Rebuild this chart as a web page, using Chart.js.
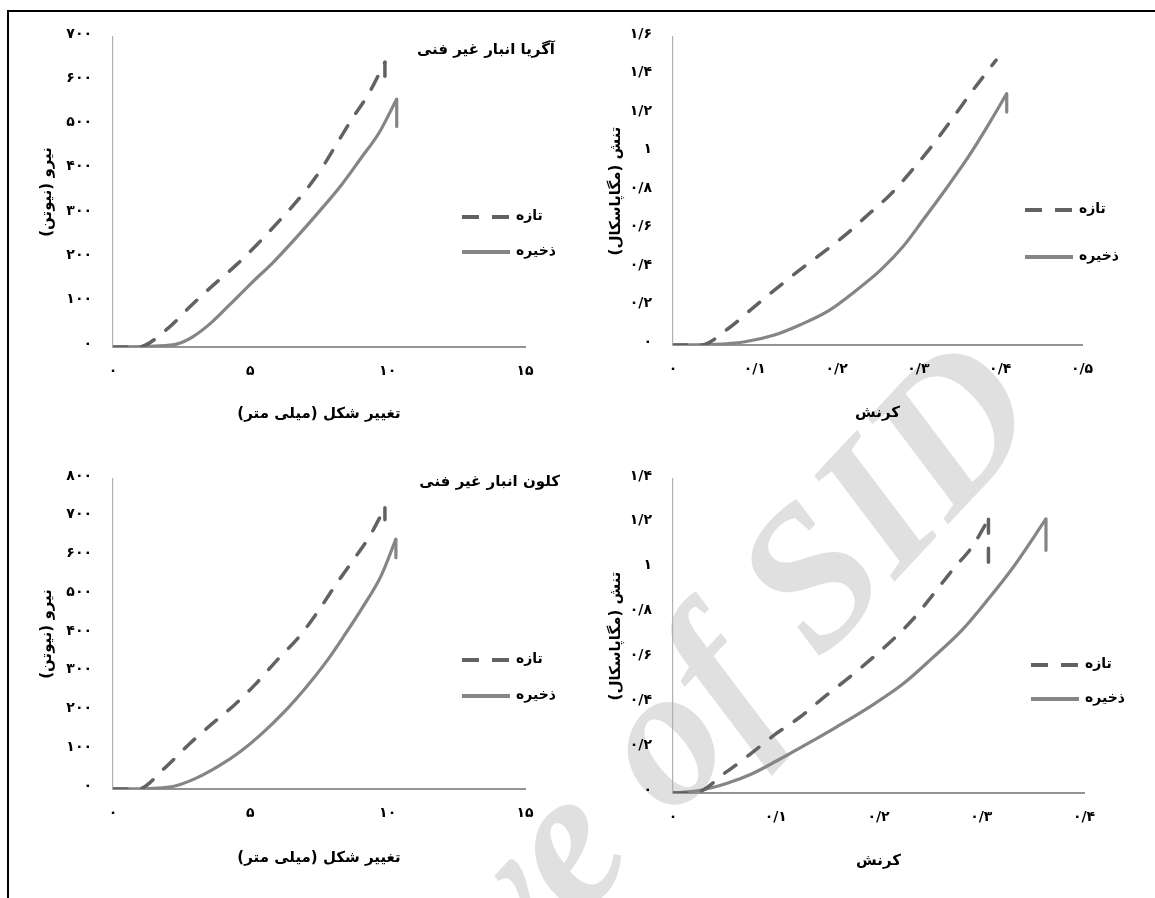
<!DOCTYPE html>
<html>
<head>
<meta charset="utf-8">
<script src="https://cdn.jsdelivr.net/npm/chart.js@4/dist/chart.umd.min.js"></script>
<style>
  body { margin: 0; background: #fff; width: 1155px; height: 898px; overflow: hidden; position: relative; }
  .frame { position: absolute; left: 7px; top: 10px; width: 1150px; height: 900px; border-top: 2px solid #000; border-left: 2px solid #000; }
  .wm { position: absolute; left: 0; top: 0; width: 1400px; text-align: right; white-space: nowrap;
        font: italic bold 200px "Liberation Serif", serif; line-height: 200px; color: #e0e0e0;
        transform-origin: 100% 75%; transform: translate(-365px, 256px) rotate(-47deg); }
  .box { position: absolute; }
  canvas { direction: rtl; }
</style>
</head>
<body>
<div class="frame"></div>
<div class="wm">Archive of SID</div>
<div class="box" style="left:0;top:0;width:578px;height:440px"><canvas id="agria"></canvas></div>
<div class="box" style="left:578px;top:0;width:577px;height:440px"><canvas id="agriaStress"></canvas></div>
<div class="box" style="left:0;top:440px;width:578px;height:458px"><canvas id="clone"></canvas></div>
<div class="box" style="left:578px;top:440px;width:577px;height:458px"><canvas id="cloneStress"></canvas></div>
<script>
// series names
const seriesNames = ['تازه', 'ذخیره'];

// Agria, force (N) vs deformation (mm); last point = drop after rupture
const agriaFreshX  = [0, 0.9, 2.0, 2.8, 3.6, 4.5, 5.3, 6.1, 6.8, 7.5, 8.1, 8.7, 9.3, 9.9, 9.9];
const agriaFreshY  = [0, 0, 42, 91, 137, 186, 235, 288, 337, 394, 454, 515, 571, 643, 608];
const agriaStoredX = [0, 1.5, 2.35, 2.9, 3.56, 4.24, 5.05, 5.86, 6.67, 7.48, 8.28, 9.0, 9.7, 10.33, 10.33];
const agriaStoredY = [0, 2, 7, 23, 54, 95, 145, 193, 247, 304, 363, 424, 485, 560, 498];

// Agria, stress (MPa) vs strain
const agriaFreshStrain  = [0, 0.034, 0.068, 0.097, 0.124, 0.155, 0.182, 0.213, 0.24, 0.267, 0.294, 0.319, 0.343, 0.366, 0.395];
const agriaFreshStress  = [0, 0, 0.087, 0.19, 0.285, 0.39, 0.476, 0.58, 0.683, 0.787, 0.917, 1.047, 1.185, 1.32, 1.48];
const agriaStoredStrain = [0, 0.05, 0.088, 0.124, 0.155, 0.191, 0.222, 0.254, 0.281, 0.307, 0.334, 0.361, 0.384, 0.408, 0.408];
const agriaStoredStress = [0, 0.003, 0.017, 0.052, 0.104, 0.18, 0.277, 0.39, 0.51, 0.657, 0.813, 0.977, 1.133, 1.306, 1.21];

// Clone, force (N) vs deformation (mm)
const cloneFreshX  = [0, 0.9, 1.88, 2.76, 3.57, 4.44, 5.18, 5.99, 6.8, 7.47, 8.08, 8.68, 9.35, 9.9, 9.9];
const cloneFreshY  = [0, 0, 54, 115, 166, 218, 270, 334, 395, 459, 524, 584, 653, 726, 695];
const cloneStoredX = [0, 1.5, 2.22, 3.03, 3.84, 4.64, 5.45, 6.26, 7.07, 7.74, 8.41, 9.08, 9.76, 10.3, 10.3];
const cloneStoredY = [0, 2, 7, 28, 59, 97, 145, 201, 266, 326, 395, 468, 550, 645, 597];

// Clone, stress (MPa) vs strain
const cloneFreshStrain  = [0, 0.02, 0.052, 0.077, 0.099, 0.124, 0.145, 0.17, 0.191, 0.213, 0.234, 0.254, 0.273, 0.291, 0.307, 0.307];
const cloneFreshStress  = [0, 0, 0.094, 0.18, 0.26, 0.34, 0.42, 0.51, 0.59, 0.68, 0.777, 0.89, 1.0, 1.097, 1.22, 1.007];
const cloneStoredStrain = [0, 0.027, 0.052, 0.077, 0.102, 0.131, 0.159, 0.191, 0.224, 0.252, 0.281, 0.306, 0.33, 0.363, 0.363];
const cloneStoredStress = [0, 0.012, 0.042, 0.086, 0.146, 0.22, 0.294, 0.383, 0.487, 0.6, 0.725, 0.86, 1.0, 1.222, 1.082];

// tick values
const deformTicks   = [0, 5, 10, 15];
const force700Ticks = [0, 100, 200, 300, 400, 500, 600, 700];
const force800Ticks = [0, 100, 200, 300, 400, 500, 600, 700, 800];
const strain5Ticks  = [0, 0.1, 0.2, 0.3, 0.4, 0.5];
const strain4Ticks  = [0, 0.1, 0.2, 0.3, 0.4];
const stress16Ticks = [0, 0.2, 0.4, 0.6, 0.8, 1, 1.2, 1.4, 1.6];
const stress14Ticks = [0, 0.2, 0.4, 0.6, 0.8, 1, 1.2, 1.4];

// titles
const forceTitle  = 'نیرو (نیوتن)';
const deformTitle = 'تغییر شکل (میلی متر)';
const stressTitle = 'تنش (مگاپاسکال)';
const strainTitle = 'کرنش';
const agriaTitle  = 'آگریا انبار غیر فنی';
const cloneTitle  = 'کلون انبار غیر فنی';

const FONT = '"DejaVu Sans", sans-serif';
const faDigits = '۰۱۲۳۴۵۶۷۸۹';
function toFa(v) {
  return String(+v.toFixed(3)).replace(/\d/g, d => faDigits[d]).replace('.', '/');
}
function zip(xs, ys) { return xs.map((x, i) => ({ x: x, y: ys[i] })); }

// split off the vertical drop at the end so the curve itself can be smooth
function split(xs, ys) {
  const pts = zip(xs, ys);
  const n = pts.length;
  if (n > 2 && xs[n - 1] === xs[n - 2]) return [pts.slice(0, n - 1), pts.slice(n - 2)];
  return [pts, []];
}

// title + legend drawn inside the plot box
const overlay = {
  id: 'overlay',
  afterDraw(chart, args, o) {
    const ctx = chart.ctx;
    ctx.save();
    ctx.direction = 'rtl';
    ctx.textBaseline = 'middle';
    if (o.title) {
      ctx.font = 'bold 15px ' + FONT;
      ctx.fillStyle = '#000';
      ctx.textAlign = 'right';
      ctx.fillText(o.title, o.titleX, o.titleY);
    }
    chart.data.datasets.slice(0, 2).forEach((ds, i) => {
      const y = o.legendY[i];
      ctx.strokeStyle = ds.borderColor;
      ctx.lineWidth = 4;
      ctx.lineCap = 'butt';
      ctx.setLineDash(ds.borderDash ? [17, 13] : []);
      ctx.beginPath();
      ctx.moveTo(o.legendX, y);
      ctx.lineTo(o.legendX + 48, y);
      ctx.stroke();
      ctx.setLineDash([]);
      ctx.fillStyle = '#000';
      ctx.font = 'bold 14px ' + FONT;
      ctx.textAlign = 'left';
      ctx.fillText(ds.label, o.legendX + 54, y - 1);
    });
    ctx.restore();
  }
};

const freshStyle  = { borderColor: '#626262', borderWidth: 3.5, borderDash: [14, 15], borderCapStyle: 'round',
                      pointRadius: 0, fill: false };
const storedStyle = { borderColor: '#858585', borderWidth: 3.2, borderJoinStyle: 'round', pointRadius: 0, fill: false };

function panel(id, fresh, stored, xTicks, yTicks, xTitle, yTitle, lay) {
  const f = split(fresh[0], fresh[1]);
  const s = split(stored[0], stored[1]);
  const tickFont = { family: FONT, size: 14, weight: 'bold' };
  const titleFont = { family: FONT, size: 15, weight: 'bold' };
  return new Chart(document.getElementById(id), {
    type: 'line',
    data: {
      datasets: [
        Object.assign({ label: seriesNames[0], data: f[0], cubicInterpolationMode: 'monotone' }, freshStyle),
        Object.assign({ label: seriesNames[1], data: s[0], cubicInterpolationMode: 'monotone' }, storedStyle),
        Object.assign({ label: 'drop-fresh', data: f[1], tension: 0 }, freshStyle),
        Object.assign({ label: 'drop-stored', data: s[1], tension: 0 }, storedStyle)
      ]
    },
    options: {
      responsive: true,
      maintainAspectRatio: false,
      animation: false,
      layout: { padding: lay.pad },
      plugins: {
        legend: { display: false },
        tooltip: { enabled: false },
        overlay: lay.overlay
      },
      scales: {
        x: {
          type: 'linear',
          min: xTicks[0],
          max: xTicks[xTicks.length - 1],
          grid: { display: false, drawTicks: false },
          border: { color: '#939393', width: 2 },
          afterBuildTicks: sc => { sc.ticks = xTicks.map(v => ({ value: v })); },
          afterFit: sc => { sc.height = lay.xh; },
          ticks: { padding: 16, color: '#000', font: tickFont, callback: v => toFa(v) },
          title: { display: true, text: xTitle, color: '#000', font: titleFont, padding: { top: 0, bottom: lay.xtp } }
        },
        y: {
          type: 'linear',
          min: yTicks[0],
          max: yTicks[yTicks.length - 1],
          grid: { display: false, drawTicks: false },
          border: { color: '#b0b0b0', width: 1.2 },
          afterBuildTicks: sc => { sc.ticks = yTicks.map(v => ({ value: v })); },
          afterFit: sc => { sc.width = lay.yw; },
          ticks: { padding: 21, labelOffset: -3, color: '#000', font: tickFont, callback: v => toFa(v) },
          title: { display: true, text: yTitle, color: '#000', font: titleFont, padding: { top: lay.ytp, bottom: 0 } }
        }
      }
    },
    plugins: [overlay]
  });
}

panel('agria', [agriaFreshX, agriaFreshY], [agriaStoredX, agriaStoredY],
  deformTicks, force700Ticks, deformTitle, forceTitle,
  { pad: { left: 0, top: 37, right: 53, bottom: 0 }, xh: 93, yw: 113, xtp: 17, ytp: 38,
    overlay: { title: agriaTitle, titleX: 555, titleY: 50, legendX: 462, legendY: [217, 252] } });

panel('agriaStress', [agriaFreshStrain, agriaFreshStress], [agriaStoredStrain, agriaStoredStress],
  strain5Ticks, stress16Ticks, strainTitle, stressTitle,
  { pad: { left: 0, top: 37, right: 73, bottom: 0 }, xh: 95, yw: 95, xtp: 18, ytp: 29,
    overlay: { legendX: 447, legendY: [210, 257] } });

panel('clone', [cloneFreshX, cloneFreshY], [cloneStoredX, cloneStoredY],
  deformTicks, force800Ticks, deformTitle, forceTitle,
  { pad: { left: 0, top: 39, right: 53, bottom: 0 }, xh: 109, yw: 113, xtp: 31, ytp: 38,
    overlay: { title: cloneTitle, titleX: 560, titleY: 42, legendX: 462, legendY: [220, 256] } });

panel('cloneStress', [cloneFreshStrain, cloneFreshStress], [cloneStoredStrain, cloneStoredStress],
  strain4Ticks, stress14Ticks, strainTitle, stressTitle,
  { pad: { left: 0, top: 39, right: 71, bottom: 0 }, xh: 105, yw: 95, xtp: 28, ytp: 29,
    overlay: { legendX: 453, legendY: [225, 259] } });
</script>
</body>
</html>
